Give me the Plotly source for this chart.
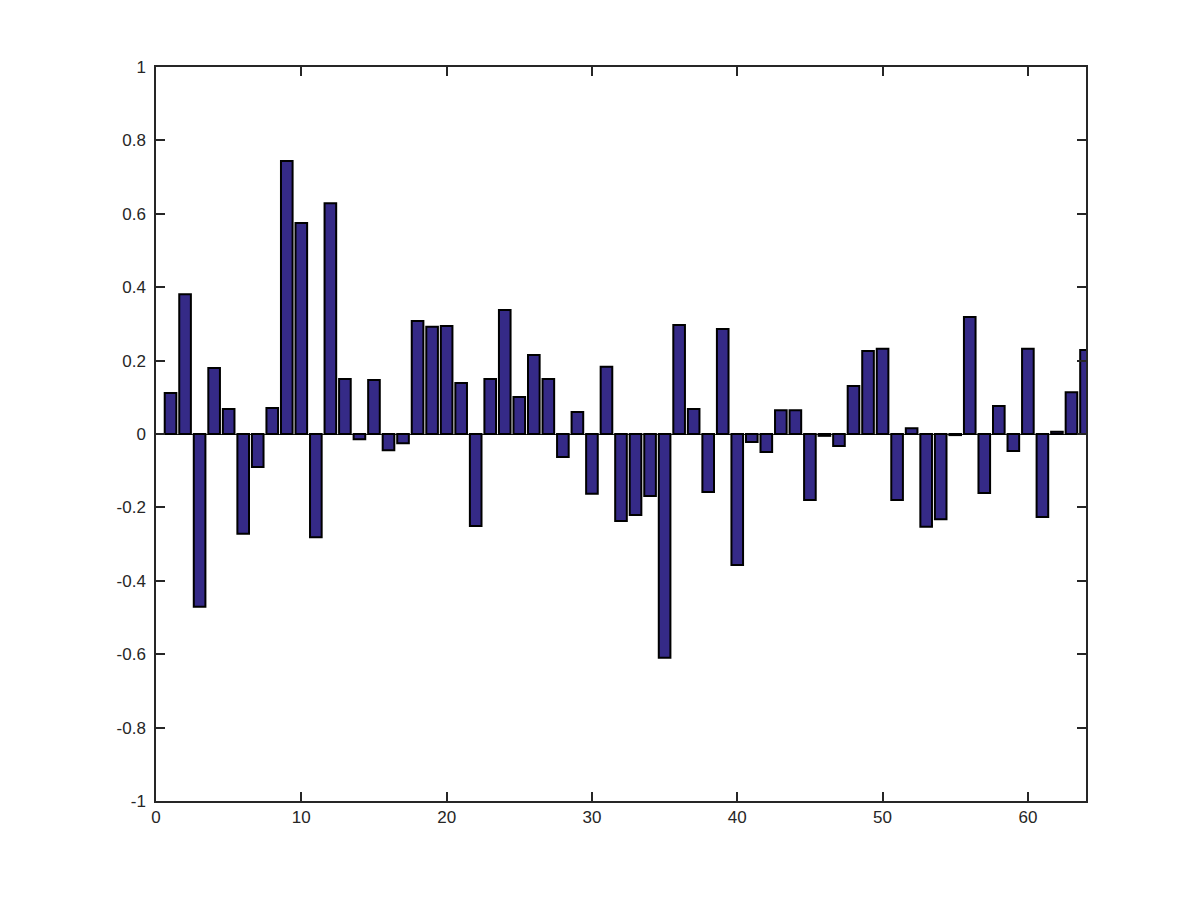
import plotly.graph_objects as go

# bar index and heights
idx = list(range(1, 65))
vals = [0.112, 0.381, -0.471, 0.180, 0.068, -0.272, -0.090, 0.071, 0.744, 0.575,
        -0.281, 0.629, 0.150, -0.014, 0.147, -0.044, -0.025, 0.308, 0.292, 0.294,
        0.139, -0.251, 0.150, 0.338, 0.101, 0.215, 0.150, -0.063, 0.060, -0.163,
        0.183, -0.237, -0.221, -0.169, -0.610, 0.297, 0.068, -0.158, 0.286, -0.357,
        -0.022, -0.049, 0.065, 0.065, -0.180, -0.005, -0.033, 0.131, 0.226, 0.232,
        -0.180, 0.016, -0.253, -0.232, -0.003, 0.319, -0.161, 0.076, -0.046, 0.232,
        -0.226, 0.006, 0.114, 0.229]

xticks = [0, 10, 20, 30, 40, 50, 60]
yticks = [-1, -0.8, -0.6, -0.4, -0.2, 0, 0.2, 0.4, 0.6, 0.8, 1]
ylabels = ["-1", "-0.8", "-0.6", "-0.4", "-0.2", "0", "0.2", "0.4", "0.6", "0.8", "1"]

fig = go.Figure()
fig.add_trace(go.Bar(x=idx, y=vals, width=0.8,
                     marker=dict(color="#352a87", line=dict(color="black", width=2))))

axis_style = dict(showgrid=False, showline=True, linecolor="#262626", linewidth=1.5,
                  mirror="ticks", ticks="inside", ticklen=9, tickwidth=1.5,
                  tickcolor="#262626", tickfont=dict(family="Liberation Sans, Arial", size=17, color="#262626"))

fig.update_xaxes(range=[0, 64], tickvals=xticks, zeroline=False, **axis_style)
fig.update_yaxes(range=[-1, 1], tickvals=yticks, ticktext=ylabels, ticklabelstandoff=5,
                 zeroline=True, zerolinecolor="#262626", zerolinewidth=1.2, **axis_style)

# page has an 8px body margin, so margins are trimmed to land the axes box where it sits
fig.update_layout(width=1200, height=900, showlegend=False,
                  plot_bgcolor="white", paper_bgcolor="white",
                  margin=dict(l=148, r=122, t=59, b=107))

fig.write_html("out.html")
